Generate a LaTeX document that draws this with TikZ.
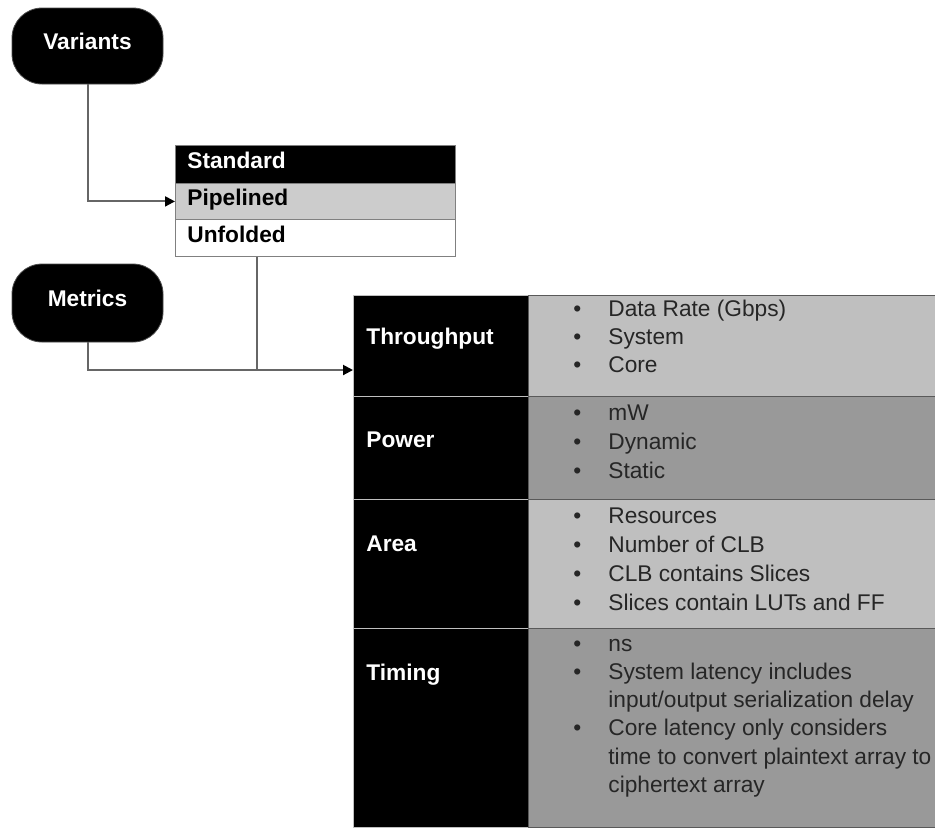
\documentclass[tikz,border=0pt]{standalone}
\usepackage{fontspec}
\setmainfont{Liberation Sans}
\usetikzlibrary{arrows.meta}

\begin{document}
\begin{tikzpicture}[
    x=0.5pt,
    y=-0.5pt,
    font={\fontsize{11.35pt}{14pt}\selectfont},
    pill/.style={
        rectangle,
        rounded corners=15pt,
        draw=black!70,
        fill=black,
        text=white,
        font={\fontsize{11.35pt}{14pt}\selectfont\bfseries},
        minimum width=75.5pt,
        minimum height=38pt,
        text height=8.1pt,
        text depth=5pt
    },
    row/.style={
        rectangle,
        draw=black!50,
        anchor=north west,
        inner xsep=6pt,
        inner ysep=0pt,
        text width=128pt,
        align=left,
        text height=8.1pt,
        text depth=4pt,
        font={\fontsize{11.35pt}{14pt}\selectfont\bfseries}
    },
    cat/.style={
        rectangle,
        draw=black!25,
        fill=black,
        anchor=north west,
        inner sep=0pt,
        minimum width=87.5pt
    },
    info/.style={
        rectangle,
        draw=black!65,
        anchor=north west,
        inner sep=0pt,
        minimum width=203.5pt
    },
    catlabel/.style={
        anchor=base west,
        inner sep=0pt,
        text=white,
        font={\fontsize{11.35pt}{14pt}\selectfont\bfseries}
    },
    items/.style={
        anchor=base west,
        inner sep=0pt,
        text=black!85
    },
    link/.style={
        draw=black!60,
        line width=1pt
    },
    arrow/.style={
        link,
        -{Triangle[length=5pt,width=5pt,color=black]}
    }
]

\useasboundingbox (0,0) rectangle (935,827);

% ------------------------------------------------
% Left column: variants and metrics
% ------------------------------------------------

\node[pill] (variants) at (87.5,46) {Variants};

\node[pill, minimum height=39pt] (metrics) at (87.5,303) {Metrics};

% ------------------------------------------------
% Variant list
% ------------------------------------------------

\node[row, fill=black, text=white, minimum height=19pt] (standard) at (175,145) {Standard};

\node[row, fill=black!20, minimum height=18pt] (pipelined) at (175,183) {Pipelined};

\node[row, fill=white, minimum height=18.5pt] (unfolded) at (175,219) {Unfolded};

% ------------------------------------------------
% Metrics table
% ------------------------------------------------

\node[cat, minimum height=50.5pt] (thr) at (353,295) {};
\node[info, fill=black!25, minimum height=50.5pt] (thr-info) at (528,295) {};

\node[cat, minimum height=51.5pt] (pow) at (353,396) {};
\node[info, fill=black!40, minimum height=51.5pt] (pow-info) at (528,396) {};

\node[cat, minimum height=64.5pt] (area) at (353,499) {};
\node[info, fill=black!25, minimum height=64.5pt] (area-info) at (528,499) {};

\node[cat, minimum height=99.5pt] (tim) at (353,628) {};
\node[info, fill=black!40, minimum height=99.5pt] (tim-info) at (528,628) {};

% category labels
\node[catlabel] (thr-lbl) at (366,344) {Throughput};
\node[catlabel] (pow-lbl) at (366,447) {Power};
\node[catlabel] (area-lbl) at (366,551) {Area};
\node[catlabel] (tim-lbl) at (366,680) {Timing};

% bullet lists
\node[items] (thr-list) at (573,316) {%
    \begin{tabular}[t]{@{}p{17.5pt}@{}l@{}}
        \textbullet & Data Rate (Gbps)\\
        \textbullet & System\\
        \textbullet & Core
    \end{tabular}};

\node[items, font={\fontsize{11.35pt}{14.5pt}\selectfont}] (pow-list) at (573,420) {%
    \begin{tabular}[t]{@{}p{17.5pt}@{}l@{}}
        \textbullet & mW\\
        \textbullet & Dynamic\\
        \textbullet & Static
    \end{tabular}};

\node[items, font={\fontsize{11.35pt}{14.5pt}\selectfont}] (area-list) at (573,523) {%
    \begin{tabular}[t]{@{}p{17.5pt}@{}l@{}}
        \textbullet & Resources\\
        \textbullet & Number of CLB\\
        \textbullet & CLB contains Slices\\
        \textbullet & Slices contain LUTs and FF
    \end{tabular}};

\node[items, font={\fontsize{11.35pt}{14.15pt}\selectfont}] (tim-list) at (573,651) {%
    \begin{tabular}[t]{@{}p{17.5pt}@{}l@{}}
        \textbullet & ns\\
        \textbullet & System latency includes\\
                    & input/output serialization delay\\
        \textbullet & Core latency only considers\\
                    & time to convert plaintext array to\\
                    & ciphertext array
    \end{tabular}};

% ------------------------------------------------
% Connectors
% ------------------------------------------------

\coordinate (joint) at (257,370);

\draw[arrow] (variants.south) |- (pipelined.west);
\draw[link] (joint |- unfolded.south) -- (joint);
\draw[arrow] (metrics.south) |- (joint) -- (joint -| thr.west);

\end{tikzpicture}
\end{document}
